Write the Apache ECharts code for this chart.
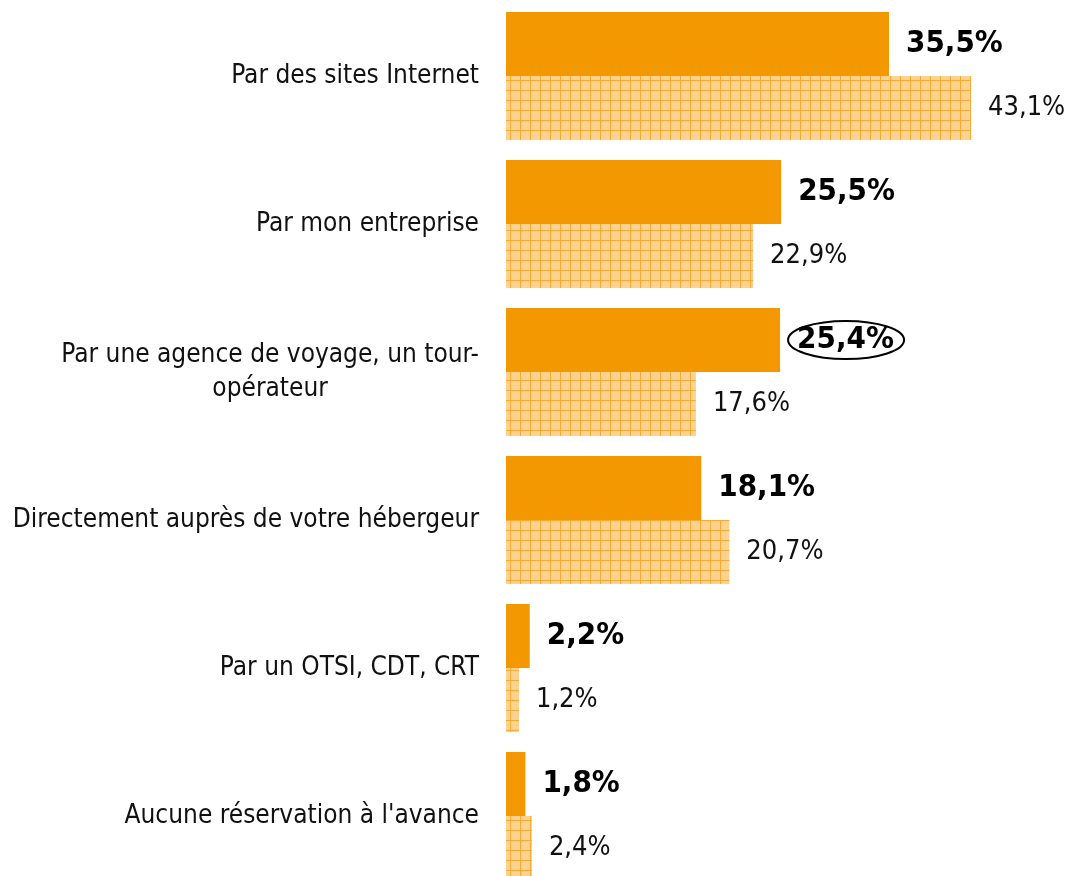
<!DOCTYPE html>
<html>
<head>
<meta charset="utf-8">
<script src="https://cdn.jsdelivr.net/npm/echarts@6/dist/echarts.min.js"></script>
<style>
  html, body { margin: 0; padding: 0; background: #fff; }
  #chart { width: 1068px; height: 876px; }
</style>
</head>
<body>
<div id="chart"></div>
<script>
// données
const categories = [
    'Par des sites Internet',
    'Par mon entreprise',
    'Par une agence de voyage, un tour-\nopérateur',
    'Directement auprès de votre hébergeur',
    'Par un OTSI, CDT, CRT',
    "Aucune réservation à l'avance"
];
const valuesMain = [35.5, 25.5, 25.4, 18.1, 2.2, 1.8];
const valuesRef = [43.1, 22.9, 17.6, 20.7, 1.2, 2.4];
const circledIndex = 2;

const FONT = '"DejaVu Sans Condensed", "DejaVu Sans", sans-serif';

// motif quadrillé des barres claires
function makeHatch() {
    const c = document.createElement('canvas');
    c.width = 10;
    c.height = 10;
    const ctx = c.getContext('2d');
    ctx.fillStyle = '#fbd28f';
    ctx.fillRect(0, 0, 10, 10);
    ctx.fillStyle = '#f6ab35';
    ctx.fillRect(0, 0, 10, 1);
    ctx.fillRect(0, 0, 1, 10);
    return c;
}

function fmt(v) {
    return v.toFixed(1).replace('.', ',') + '%';
}

const chart = echarts.init(document.getElementById('chart'));

const option = {
    animation: false,
    grid: {
        left: 506,
        right: 22.5,
        top: 2,
        height: 888,
        containLabel: false,
        outerBoundsMode: 'none'
    },
    xAxis: {
        type: 'value',
        min: 0,
        max: 50,
        show: false
    },
    yAxis: {
        type: 'category',
        data: categories,
        inverse: true,
        axisLine: { show: false },
        axisTick: { show: false },
        splitLine: { show: false },
        axisLabel: {
            margin: 27,
            formatter: v => '{c|' + v + '}',
            rich: {
                c: {
                    align: 'center',
                    fontFamily: FONT,
                    fontSize: 26,
                    lineHeight: 34,
                    color: '#111'
                }
            }
        }
    },
    series: [
        {
            type: 'bar',
            data: valuesMain,
            barWidth: 64,
            barGap: '0%',
            itemStyle: { color: '#f39800' },
            label: {
                show: true,
                position: 'right',
                distance: 17,
                formatter: p => fmt(p.value),
                fontFamily: FONT,
                fontWeight: 'bold',
                fontSize: 31,
                color: '#000'
            }
        },
        {
            type: 'bar',
            data: valuesRef,
            barWidth: 64,
            barGap: '0%',
            itemStyle: {
                color: { image: makeHatch(), repeat: 'repeat', x: 0, y: 0 }
            },
            label: {
                show: true,
                position: 'right',
                distance: 17,
                formatter: p => fmt(p.value),
                fontFamily: FONT,
                fontSize: 27,
                color: '#111'
            }
        }
    ]
};

chart.setOption(option);

// ellipse autour de la valeur entourée
const endPt = chart.convertToPixel({ seriesIndex: 0 }, [valuesMain[circledIndex], circledIndex]);
const cx = endPt[0] + 66;
const cy = endPt[1] - 32;
chart.setOption({
    graphic: [{
        type: 'ellipse',
        shape: { cx: cx, cy: cy, rx: 58, ry: 19 },
        style: { fill: 'none', stroke: '#000', lineWidth: 2 },
        z: 100
    }]
});
</script>
</body>
</html>
